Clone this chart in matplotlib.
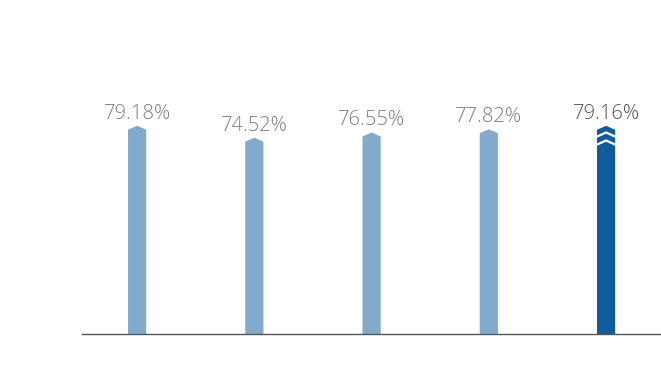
import matplotlib.pyplot as plt
from matplotlib.patches import Polygon

categories = ["A", "B", "C", "D", "E"]
values = [79.18, 74.52, 76.55, 77.82, 79.16]
labels = ["79.18%", "74.52%", "76.55%", "77.82%", "79.16%"]

LIGHT = "#80abcc"
DARK = "#0f5c9c"
PX = 1 / 2.58  # data units per pixel

fig = plt.figure(figsize=(6.61, 3.80), dpi=100)
ax = fig.add_axes([82 / 661, 46 / 380, 578 / 661, 334 / 380])
ax.set_xlim(-0.47, 4.46)
ax.set_ylim(0, 334 * PX)
for s in ["top", "right", "left"]:
    ax.spines[s].set_visible(False)
ax.spines["bottom"].set_color("#555555")
ax.spines["bottom"].set_linewidth(1)
ax.set_xticks([])
ax.set_yticks([])

w = 0.155
tip = 4 * PX


def arrow_bar(x, top, color, bottom=0):
    pts = [(x - w / 2, bottom), (x - w / 2, top), (x, top + tip),
           (x + w / 2, top), (x + w / 2, bottom)]
    ax.add_patch(Polygon(pts, closed=True, color=color, lw=0))


def chevron(x, top, color, thick):
    pts = [(x - w / 2, top), (x, top + tip), (x + w / 2, top),
           (x + w / 2, top - thick), (x, top + tip - thick), (x - w / 2, top - thick)]
    ax.add_patch(Polygon(pts, closed=True, color=color, lw=0))


last = len(values) - 1
for i, v in enumerate(values):
    if i < last:
        arrow_bar(i, v, LIGHT)
        col = "#7f7f7f"
    else:
        chevron(i, v, DARK, 5.5 * PX)
        chevron(i, v - 8 * PX, DARK, 5.5 * PX)
        arrow_bar(i, v - 16 * PX, DARK)
        col = "#505050"
    ax.annotate(labels[i], (i, v + tip), xytext=(0, 1.5), textcoords="offset points",
                ha="center", va="bottom", fontsize=14.5, color=col,
                family="Open Sans", fontweight="light")

fig.savefig("out.png", dpi=100)
